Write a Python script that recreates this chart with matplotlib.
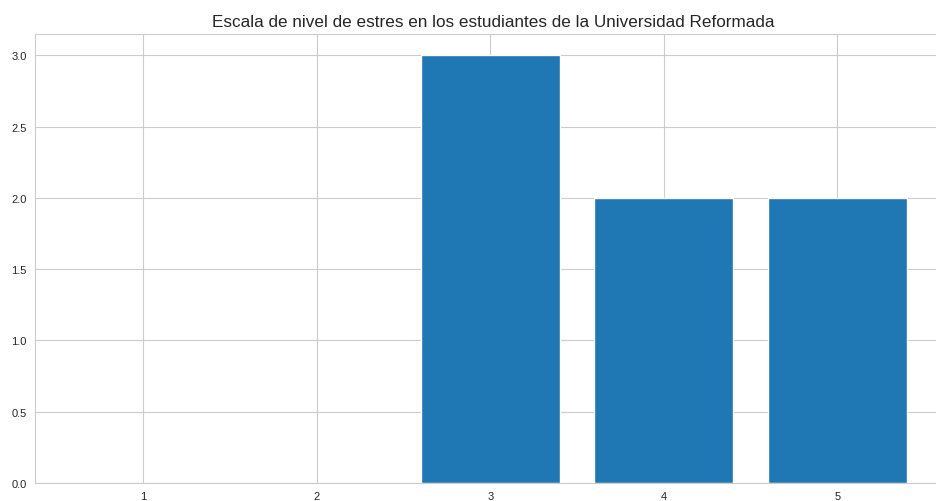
import numpy as np
import matplotlib
matplotlib.use("Agg")
import matplotlib.pyplot as plt
import seaborn as sns

# Stress scale counts
niveles = [1, 2, 3, 4, 5]
conteos = [0, 0, 3, 2, 2]

sns.set_style("whitegrid")
plt.rcParams['font.family'] = ['Liberation Sans', 'DejaVu Sans']

fig = plt.figure(figsize=(9.36, 5.02), dpi=100)
ax = fig.add_axes([35 / 936, 18 / 502, 916 / 936, 449 / 502])
ax.bar(niveles, conteos, width=0.8, color='#1f77b4')
ax.set_xlim(0.375, 5.655)
ax.set_ylim(0, 3.15)
ax.set_xticks(niveles)
ax.set_yticks(np.arange(0, 3.01, 0.5))
ax.tick_params(labelsize=8, pad=2.5)
ax.set_title("Escala de nivel de estres en los estudiantes de la Universidad Reformada", fontsize=12.3)

fig.savefig("out.png", dpi=100)
